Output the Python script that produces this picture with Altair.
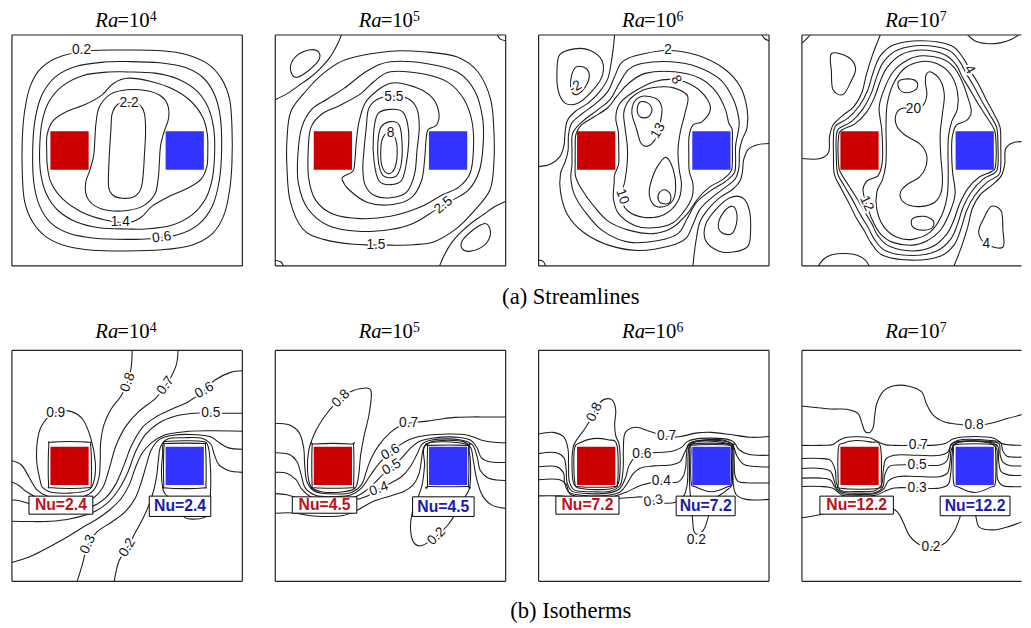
import altair as alt
import pandas as pd

# ------------------------------------------------------------------
# Texts
RA_EXP = ["4", "5", "6", "7"]
CAPTION_A = "(a)  Streamlines"
CAPTION_B = "(b)  Isotherms"
NU_VALUES = ["2.4", "4.5", "7.2", "12.2"]

# heaters (cavity units 0..100): x0, x1, y0, y1
HOT_SQ = (16.7, 33.3, 41.7, 58.3)
COLD_SQ = (66.7, 83.3, 41.7, 58.3)

# ------------------------------------------------------------------
# (a) Streamlines, Ra = 1e4
A1_02 = [(50,93.5),(65,93.2),(76,91.5),(85,87.5),(91,81),(94.5,72),(95.5,60),(95.5,45),(94.5,33),(92,22),(87,14),(78,9),(65,7),(50,6.5),(35,6.8),(24,8.5),(15,12.5),(9,19),(5.5,28),(4.5,40),(4.5,55),(5.5,67),(8,78),(13,86),(22,91),(35,93.3)]
A1_06 = [(50,88.5),(64,88),(75,86),(83,81.5),(88,74),(90.5,64),(91,50),(90,37),(87,26),(81,18),(72,13.5),(60,11.8),(50,11.5),(36,12),(25,14),(17,18.5),(12,26),(9.5,36),(9,50),(10,63),(13,74),(19,82),(28,86.5),(40,88.3)]
A1_10 = [(50,84),(62,83.5),(72,81),(80,76),(85,69),(87.5,60),(88,50),(87,38),(84,29),(78,22),(69,17.5),(58,16),(50,16),(38,16.5),(28,19),(20,24),(15,31),(12.5,40),(12,50),(13,62),(16,71),(22,78),(31,82.5),(42,84)]
A1_14 = [(50,81.3),(60,80),(70,76.5),(78,71),(83,64),(84.8,57),(85,50),(84.6,43),(82,37.5),(76,33.5),(68,30),(61,26),(56,21),(50,18.7),(40,20),(30,23.5),(22,29),(17,36),(15.4,43),(15.1,50),(15.3,57),(18,63),(24,67),(32,70),(39,74),(44,79)]
A1_18 = [(50,76.3),(58,76),(64,74),(67.5,70),(68,64),(66,58),(64.5,52),(64,45),(63.5,38),(62,31),(57,26),(50,24),(42,24),(36,26),(32.5,30),(32,36),(34,42),(35.5,48),(36,55),(36.5,62),(38,69),(43,74.5)]
A1_22 = [(50,70.8),(55,70),(57.5,66),(58,58),(57.5,48),(57,40),(56,33.5),(53,30),(48,29.3),(44,30.5),(42,34),(42,42),(42.5,52),(43,60),(43.5,66),(46,70)]

# (a) Streamlines, Ra = 1e5
A2_15 = [(50,93),(66,92.6),(79,90.5),(88,84),(93.5,72),(94.9,58),(94.9,45),(93.2,33),(86.2,23.7),(79,16.5),(69,10.5),(60,9.2),(50,9),(34,9.4),(21,11.5),(12,16),(6.5,28),(5.1,42),(5.1,55),(6.8,67),(13.8,76.3),(21,83.5),(31,89.5)]
A2_25 = [(50,88.4),(66,87.6),(79,84),(86.5,76),(90,64),(90.2,52),(88.5,41),(84,33),(77,28.5),(70,24.5),(60,18.5),(50,15.8),(36,15),(23,17.5),(14,25),(10,36),(9.8,48),(11.5,60),(16,68),(23,72.5),(30,77),(40,84.5)]
A2_35 = [(50,84.1),(64,83.2),(75,79.5),(82,72),(85.5,62),(86,50),(84.5,40),(79.5,34),(72,30.5),(63,25.5),(50,21.5),(37,20.5),(25,22.5),(17.5,28.5),(14.5,38),(14.3,50),(15.5,60),(20.5,66),(28,69.5),(37,74.5),(43,80)]
A2_45 = [(50,79.1),(60.5,77.5),(68,73),(71,66.5),(70,61),(66.3,59),(65.4,54),(64.8,46),(63.5,37),(59,29.5),(50,26.5),(40,27.5),(32,33),(29,37.5),(30,39),(33.7,41),(34.6,46),(35.2,54),(36.5,63),(40,72)]
A2_55 = [(50,73.5),(57.5,72.5),(61.5,68),(62.5,60),(61.5,50),(60.5,40),(57,32),(50,29.5),(43,30.5),(39,35),(38,42),(38.5,50),(39.5,60),(40.5,68),(44,72)]
A2_65 = [(50,67.8),(55.6,66.4),(57.9,57.9),(57.2,46.5),(55,37.3),(50,35.2),(45,36.9),(42.9,45.1),(42.6,56.5),(44.4,65.7)]
A2_75 = [(50,62.5),(53.8,61),(55,54),(54.8,45),(53,39.5),(50,38.2),(46.5,39.5),(44.8,45),(44.5,53),(45.8,60)]
A2_80 = [(49.4,57.9),(52.2,55),(52.9,48),(51.5,41.6),(48.6,40.1),(46.2,43.7),(45.8,50.8),(46.8,55.7)]
A2_SEP_TL = [(0,72),(5,74.5),(10,78),(15,81.5),(19.5,85.5),(23.5,90),(26.5,95),(28.7,100)]
A2_SEP_BR = [(100,28),(95,25.5),(90,22),(85,18.5),(80.5,14.5),(76.5,10),(73.5,5),(71.3,0)]
A2_LOOP_TL = [(7.4,82.7),(6.7,86.9),(9.5,91.2),(15.2,93.6),(18.8,92.6),(18.8,89),(13.8,84.1),(9.5,81.7)]
A2_LOOP_BR = [(92.6,17.3),(93.3,13.1),(90.5,8.8),(84.8,6.4),(81.2,7.4),(81.2,11),(86.2,15.9),(90.5,18.3)]
A2_CORNER_TR = [(96.5,100),(97.5,98.3),(100,97.5)]
A2_CORNER_BL = [(0,2.5),(2.5,1.7),(3.5,0)]

# (a) Streamlines, Ra = 1e6
A3_02 = [(56,93.3),(69,91.2),(80.4,85.5),(87.5,77.7),(90.5,68),(90.5,60),(88.5,55),(87.2,50),(87,43),(85.5,38),(81,34),(75,29.5),(70,24.5),(67,18),(64,12),(58,9),(44,6.7),(31,8.8),(19.6,14.5),(12.5,22.3),(9.5,32),(9.5,40),(11.5,45),(12.8,50),(13,57),(14.5,62),(19,66),(25,70.5),(30,75.5),(33,82),(36,88),(42,91)]
A3_04 = [(57.6,88.4),(69,86.2),(79,80.6),(84.6,72),(87,63),(86.5,57.5),(85.5,52),(85.5,45),(85,40.5),(81,36.5),(74.5,32.5),(68.5,27.5),(64.5,20.5),(60.5,14),(52,11),(39.1,10.3),(27.7,15.3),(19.9,23.8),(15.5,31),(14,38),(14.5,44),(14.5,50),(14.8,57.5),(19,62.5),(25.5,67.5),(31,72),(35,79),(39,85),(44.8,87.7)]
A3_06 = [(59,84.1),(70,81.3),(77,75.5),(81,68),(82.5,62),(84,59),(84.1,52),(84.1,45),(83.5,41),(80,37.5),(74,34),(69,29),(64.5,22.5),(58,16.5),(49.8,14),(39.1,15.5),(30,19.5),(23.5,26.5),(18.5,33.5),(16,39),(15.9,45),(15.9,52),(16.2,57),(18.5,61),(24,64.5),(30,68.5),(34,73.5),(39,79),(46.2,83.4)]
A3_08 = [(59.7,80.6),(67.6,77.7),(73,72.5),(74.5,67.5),(71,62.5),(67,61),(65.3,56),(65.2,48),(65.4,41),(67,35.5),(66.5,29.5),(63,23.5),(58,18.5),(50,16.5),(42,17.4),(34.9,22.4),(32.5,29),(32.8,36),(33,39.5),(34.7,44),(34.8,50),(34.6,58),(33.5,64),(35,70),(40.5,74.9),(50.5,79.9)]
A3_10 = [(59,77),(64.7,73.5),(63.5,66),(61.5,58),(60.5,50),(61,42),(62,35),(60.5,28.1),(54.8,22.4),(46.2,21),(38.5,24),(36,30),(37.5,37),(38.5,45),(38.5,52),(37.5,60),(37,66.5),(39.5,72),(45,76),(52,77.5)]
A3_13A = [(45,73.5),(51,72.5),(53.5,68.5),(52.8,62),(51,55.5),(47.7,52),(44.5,53),(42.5,59.3),(40.5,66),(41.5,71)]
A3_13B = [(55.5,47),(58.5,41.5),(59.5,34),(58,28),(53.5,25.5),(49.5,27),(48,32.3),(49.8,39.4),(52.5,44.5)]
A3_CORE_A = [(44,71),(47.5,70.5),(49.2,67.5),(47.5,64.5),(44.2,64.5),(42.8,67.5)]
A3_CORE_B = [(54.8,33),(57.2,31),(56.9,27.5),(53.8,27),(52,28.5),(52.3,31.6)]
A3_SEP_TL = [(0,43),(5,44),(9,47),(11,52),(11.5,58),(12.5,63),(16,67),(21.5,70.5),(26.5,75.5),(30,81),(31.5,88),(32.5,95),(33,100)]
A3_SEP_BR = [(100,53),(95,52.5),(91,50.5),(89,46),(88.5,41),(87.5,37),(84,33),(78.5,29.5),(73.5,24.5),(70,19),(68.5,12),(67.5,5),(67,0)]
A3_LOOP_TL = [(9.2,91.5),(15.5,94),(22,93.5),(27.5,89),(27.5,82),(23,75.5),(17,70.5),(11.5,70.5),(8.5,76),(8,85)]
A3_NEG_TL = [(16.4,86.2),(20.6,85.5),(22,82),(19.9,77),(16.4,74.2),(14.2,76.3),(14.2,82)]
A3_LOOP_BR = [(90.8,8.5),(84.5,6),(78,6.5),(72.5,11),(72.5,18),(77,24.5),(83,29.5),(88.5,29.5),(91.5,24),(92,15)]
A3_NEG_BR = [(83.6,13.8),(79.4,14.5),(78,18),(80.1,23),(83.6,25.8),(85.8,23.7),(85.8,18)]
A3_CORNER_TR = [(97,100),(98,98.5),(100,97.5)]
A3_CORNER_BL = [(0,2.5),(2,2),(3,0)]

# (a) Streamlines, Ra = 1e7
A4_C1 = [(52,97.5),(64.7,95.5),(70,90),(72.8,85),(76.5,79),(80,72),(83.5,65.5),(86,60),(86.3,52),(86.3,44),(85.5,39.5),(80,36),(75,30.5),(71.5,24),(69,16),(66,9),(60,4.2),(48,2.5),(35.3,4.5),(30,10),(27.2,15),(23.5,21),(20,28),(16.5,34.5),(14,40),(13.7,48),(13.7,56),(14.5,60.5),(20,64),(25,69.5),(28.5,76),(31,84),(34,91),(40,95.8)]
A4_C2 = [(52,95.5),(63.5,93.5),(68.5,88.5),(71.2,83.5),(74.5,78),(78,71.5),(81.5,65.5),(84.5,60),(85.1,52),(85.1,44),(84,40.5),(78.5,37.5),(73.5,32),(70,25.5),(67.5,18),(64.5,11.5),(58.5,6.5),(48,4.5),(36.5,6.5),(31.5,11.5),(28.8,16.5),(25.5,22),(22,28.5),(18.5,34.5),(15.5,40),(14.9,48),(14.9,56),(16,59.5),(21.5,62.5),(26.5,68),(30,74.5),(32.5,82),(35.5,88.5),(41.5,93.5)]
A4_C3 = [(52,93.5),(62,91.5),(67,87),(69.5,82),(72.5,77),(76,71),(79.5,65.5),(83,60),(84.1,56),(84.1,44),(82.5,41),(77,38.5),(72,33.5),(68.5,27),(66,20),(63,14),(57,8.5),(48,6.5),(38,8.5),(33,13),(30.5,18),(27.5,23),(24,29),(20.5,34.5),(17,40),(15.9,44),(15.9,56),(17.5,59),(23,61.5),(28,66.5),(31.5,73),(34,80),(37,86),(43,91.5)]
A4_C4 = [(52,91),(60.5,89.8),(66,86),(69.5,80),(72,73),(73.5,67),(71.5,63),(67,61),(65.2,55.5),(65,48),(65.4,40.5),(66.5,31.5),(64.5,24),(60.5,16),(54.5,11),(48,9),(39.5,10.2),(34,14),(30.5,20),(28,27),(26.5,33),(28.5,37),(33,39),(34.8,44.5),(35,52),(34.6,59.5),(33.5,68.5),(35.5,76),(39.5,84),(45.5,89)]
A4_C5 = [(52,88.5),(59,87.5),(64.5,83),(67.5,75.5),(67.5,68),(65,62.5),(63.6,56),(63.4,48),(63.5,39),(63,30),(60.5,21.5),(55.5,14.5),(48,11.5),(41,12.5),(35.5,17),(32.5,24.5),(32.5,32),(35,37.5),(36.4,44),(36.6,52),(36.5,61),(37,70),(39.5,78.5),(44.5,85.5)]
A4_C20 = [(56,84),(60,80.5),(61.8,74),(61,66),(60,57),(60.3,47),(61,38),(60.3,31.5),(57.5,27.5),(52,25.8),(46.5,26.3),(43,29),(43,32.5),(46,35.5),(51,38.5),(53.8,43),(54,48.5),(51,53),(45,56.5),(41.2,60.5),(40.8,65.5),(43.5,68.3),(48.4,68),(52.5,69.5),(54.2,74),(53.6,79.5),(54,83)]
A4_CORE_T = [(42,80),(46.5,81),(50,79.5),(49.5,76.5),(45.5,75),(42.3,76.5)]
A4_CORE_B = [(48,20.5),(53,21.5),(57,19.5),(56.5,16.5),(52,15.5),(48,17)]
A4_SEP_L = [(0,46.5),(8,46.5),(11.5,49),(12,56),(13.5,61),(17.5,65),(22.5,69),(26,75),(28,83),(30.5,91),(34,100)]
A4_SEP_R = [(100,53.5),(92,53.5),(88.5,51),(88,44),(86.5,39),(82.5,35),(77.5,31),(74,25),(72,17),(69.5,9),(66,0)]
A4_LOOP_TL = [(12.8,91.9),(20,90.5),(23.3,85.5),(21.3,79.9),(17.8,74.2),(13.5,76.3),(12.8,84.1)]
A4_LOOP_BR = [(87.2,8.1),(80,9.5),(76.7,14.5),(78.7,20.1),(82.2,25.8),(86.5,23.7),(87.2,15.9)]
A4_TOP_ARC = [(72,100),(75,97.5),(80,96.3),(86,96.6),(91,98.2),(94,100)]
A4_BOTTOM_ARC = [(7.1,0),(9.5,3),(13,4.8),(19.2,5.4),(24,4.6),(27.5,2.5),(29.2,0)]
A4_CORNER_TL = [(0,96.5),(2,98.3),(3.5,100)]

# ------------------------------------------------------------------
# (b) Isotherms, Ra = 1e4
B1_HOT = [(16,58.5),(17.5,60.3),(32.5,60.3),(34.2,58.5),(34.4,43),(32.5,40.5),(17.5,40.5),(15.9,42.5)]
B1_COLD = [(66,58.5),(67.3,59.7),(82.7,59.7),(84,58.5),(84.2,42.5),(82.7,40.4),(67.3,40.4),(65.9,42.5)]
B1_01 = [(65.4,55),(65.6,59.6),(68,60.7),(82,60.7),(85,58.8),(86,52),(86.3,42),(85.8,34),(84.5,28.3),(80,27),(75,27.6),(72.5,31),(69,35.5),(65.8,39),(64.9,47)]
B1_09 = [(12.4,43),(10.7,52.9),(11.7,64.3),(15.2,70.6),(20.2,73.5),(25.9,73.5),(30.9,69.9),(34.4,61.4),(36.2,51.5),(35.6,43.5),(33,39.5),(25,38.2),(17,38.6),(13.5,40.5)]
B1_08 = [(52.2,100),(51.8,93),(50.5,87),(47.5,80.5),(43,74.5),(40,68),(38.5,60),(38.3,52),(37.8,45),(35.5,39.5),(30,36.3),(22,35.8),(15.5,36.8),(11,39.5),(7.5,45),(4,50.5),(0,52.2)]
B1_07 = [(72.1,100),(71.4,94),(68.6,87.7),(65.5,83),(62.2,79.1),(55,73.5),(49.4,67.1),(45.1,58.6),(42.2,48.7),(39.4,40.6),(35.1,36),(28,34.2),(20,34),(12,35.8),(6,39),(3,41.5),(0,43)]
B1_06 = [(100,91.2),(94.9,90.5),(87.8,87),(83.5,82.7),(76.4,77.7),(69.3,74.5),(62.2,71),(56.5,66.5),(52,59),(48.5,50),(45,42),(40.5,36),(34.5,32.3),(23.8,31),(9.5,33),(3.8,34.8),(0,35.2)]
B1_05 = [(100,72.8),(86.3,72.8),(79.2,72.8),(70.7,71.5),(63.6,68.5),(57.9,63.5),(53.6,56),(50.2,47),(46.5,40),(41.5,34),(35,29.8),(25,27),(16.6,26),(6.7,25.9),(0,26)]
B1_04 = [(0,8.2),(8,10.8),(16,14.8),(24,19.2),(31,23.5),(37,27),(42.5,31),(47.5,36),(51,42),(53.5,49),(56.5,55.5),(60.5,60),(66,63.3),(75,64.8),(85,65.2),(100,65)]
B1_03 = [(28.3,0),(30.5,7),(33,16),(37,21.5),(43,25.5),(49,30),(53.5,36),(56.5,44),(58.5,51),(60.5,57),(64,61.5),(70,63.3),(80,63.5),(86.5,62.5),(90,60),(94,57.8),(100,57.2)]
B1_02 = [(44.4,0),(46.5,8.9),(50.1,14.6),(53.5,21),(57,27.5),(59.8,34),(61.7,40),(63,47),(63.6,53),(64.6,58.5),(67.5,61.6),(75,62.2),(83,61.8),(86.3,59.5),(87.8,55),(89.8,50.5),(94,48),(100,47.2)]

# (b) Isotherms, Ra = 1e5
B2_HOT = [(16,58.5),(17.2,59.5),(32.8,59.5),(34,58.5),(34,42),(32.8,40.5),(17.2,40.5),(16,42)]
B2_COLD = [(66.1,58.2),(66.8,58.9),(83.2,58.9),(83.9,58.2),(83.9,41.8),(83.2,41.1),(66.8,41.1),(66.1,41.8)]
B2_08 = [(41.5,82.7),(40.8,72.8),(38.5,62.8),(37,54.3),(36.2,46),(34.5,40.2),(28,38.6),(20,38.8),(15.5,41),(14,48),(14.6,57),(17.5,65),(21.5,71.5),(26,77),(31,81.2),(36.6,83.4)]
B2_07 = [(0,68.5),(6,67.8),(10.3,64.5),(12.3,58),(12.8,50),(13.8,43),(17,39),(26,37.8),(33,38.5),(37.5,42),(39.5,47.5),(41.5,53),(45,59),(50,64.5),(54,67.3),(58,68.5),(62,69),(66,69.4),(72,70.3),(78,71),(85,71.2),(92,71.2),(100,71.2)]
B2_06 = [(0,55.7),(6,55),(9.3,52),(11.3,46),(13,40.5),(17.5,37.3),(26,36.7),(33,37.5),(37.5,40.5),(41,45.5),(45,51),(50,56),(54,59),(58,61.3),(62,62.6),(66,63.3),(75,63.8),(82,63.6),(86,62.5),(90,61),(95,60.2),(100,60)]
B2_05 = [(0,47.2),(5,46.8),(9,44),(11.5,40),(16,36.3),(26,35.6),(34,36.3),(39,39),(43,42.5),(47,46.5),(50.5,49.5),(54.5,53),(58.5,57.5),(62.5,60.6),(68,62),(80,62.3),(85,61),(87.5,58),(89.5,53.5),(93,51.8),(100,51.5)]
B2_04 = [(0,38),(5,37.5),(10,36),(16,35),(26,34.6),(34,35.2),(40,37),(45,40),(50,42.5),(55,45.5),(58.5,49.5),(61.5,55),(63.8,59.5),(68,61.2),(80,61.3),(85.5,59.2),(87.6,54),(89,48),(92,45),(96,43.9),(100,43.7)]
B2_03 = [(0,29.5),(8,29.6),(16.6,28.3),(29.4,28.5),(35.8,30.9),(42.2,34.5),(50,37),(56,39),(60,42),(62.5,47),(63.5,53),(64.5,58),(67.5,60.3),(82,60.4),(84.8,58),(86,52),(87.5,44),(90,37),(94,33),(100,31.6)]
B2_02 = [(65.8,59.6),(82.3,59.6),(84.2,56),(84.8,48),(84.2,40),(81,34.5),(78,29),(75,24.5),(70,19.5),(63.5,15.5),(60,17),(58.7,23),(59.5,30),(61.8,36),(63.8,42),(64.8,50)]

# (b) Isotherms, Ra = 1e6
B3_HOT = [(15.5,57),(18,60),(23.5,61.8),(30,61.3),(34,59),(34.3,43),(32,41),(18,41),(15.7,43)]
B3_COLD = [(66.2,57),(66.8,59),(83.2,59),(83.6,57),(83.6,43),(82,41),(75,38.8),(68,41),(66.2,43)]
B3_08 = [(15,58),(17,62),(20,66),(23,71),(26,76.5),(28.5,78.8),(32,78.5),(33.5,74),(33,68),(33.5,63),(35,59),(35.4,50),(34.6,42.5),(31,40),(20,40),(15.4,42),(14.5,50)]
B3_07 = [(0,63.8),(6.4,64.5),(11,62.5),(12.8,57),(13,50),(13.4,43),(15.5,39.6),(23.5,38.8),(31,39),(35.3,41.5),(36.5,46.5),(36.8,52),(36.8,57.4),(37.7,64.5),(42,66.7),(48,65),(55.5,62.7),(60,62.5),(63.3,63.1),(69,64.3),(75,64.5),(83.2,63.6),(91.7,62.4),(100,62.7)]
B3_06 = [(0,55.3),(7.8,55.7),(11,53.5),(12,48),(12.3,43),(14.3,39.2),(22,38),(30,38.2),(35,40),(37.6,44.5),(39.2,50),(41.5,53.5),(44.8,55.3),(52,55.8),(58,56.3),(62,58),(64.5,60.5),(68,61.6),(80,61.8),(84.5,60.5),(87,57),(91,55),(100,54.6)]
B3_05 = [(0,49.6),(8,49.6),(10.8,47),(11.3,42.5),(13.3,38.5),(20,37.2),(30,37.3),(35.5,38.8),(38.5,42.5),(41,46.5),(44,49),(50,50),(58,50.5),(61.5,52),(63.5,56),(66,60),(70,61),(80,61.2),(84,59.5),(86,54.5),(89,50.7),(94,49.7),(100,49.5)]
B3_04 = [(0,44),(9.2,44),(12,42),(13.5,38),(19.2,36.3),(30.6,36.3),(37.7,38.5),(44.8,41.7),(53.3,43.3),(60.5,43),(62.8,45.5),(63.9,50),(64.2,55),(65,59.3),(68,60.7),(80,60.8),(84,59.3),(84.9,52),(85.2,46),(86.5,43.3),(90,42.7),(94.6,42.6),(100,42.6)]
B3_03 = [(0,37),(8,37),(15,36.4),(22,35.8),(32,35.8),(40,36.3),(45,36.5),(49.8,34.8),(55,33.8),(60,34.5),(63,37),(64.5,42),(64.8,50),(65.2,57),(67,60),(80,60.1),(83.8,58.3),(84.4,50),(84.5,42),(85.8,37.5),(90,35.5),(100,35.5)]
B3_02 = [(65.6,56),(66.2,59.5),(83.5,59.6),(84,58),(84,50),(84,42),(81,39),(76,35),(74,29),(72,23),(69.5,20.5),(67.5,21.5),(66.8,27),(66.5,33),(65.8,38),(65.5,43),(65.5,50)]

# (b) Isotherms, Ra = 1e7
B4_HOT = [(15.8,57.5),(18,59.8),(23.5,61),(30,60.3),(34,58.6),(34.4,44),(33,40.3),(17,40.3),(15.8,43)]
B4_COLD = [(65.8,57),(67,59.3),(83,59.3),(84,57),(84,43),(82,40.8),(75,38.5),(68,40.8),(65.8,43)]
B4_08 = [(0,75.9),(6,75.3),(13,74.6),(19.5,74.5),(24.5,72.5),(26,68.5),(27.5,64.8),(29.5,64.5),(31,67),(31.5,71),(32.5,77),(35.5,82.5),(40,84.7),(46.5,84.5),(52,82),(54,77),(57,72),(62,69),(68,68),(74.7,67.5),(82,68.5),(89,70.5),(96,72.3)]
B4_07 = [(0,58.9),(8,58.9),(13.5,59.3),(16,61),(19,62.3),(25,62.6),(30,62),(33.5,60.2),(36,59.2),(40,58.9),(50,58.9),(58,59),(62.5,59.8),(65.5,61.6),(70,62.5),(80,62.5),(84,61.7),(86.5,59.8),(90,59.1),(96,58.9)]
B4_06 = [(0,53.2),(8,53.2),(12.3,52.5),(14.5,48),(15,42.5),(16.8,39.4),(25,38.9),(32,39.3),(34.6,42),(35.3,48),(36.5,53),(40,54.6),(50,54.6),(60,54.6),(63.3,56),(65,59.4),(67.5,61),(82,61),(86.2,60.2),(87.2,56.5),(89,54.2),(92,53.8),(96,53.8)]
B4_05 = [(0,48.9),(8,48.9),(12.5,47.5),(14,43.5),(15.2,40),(18,38.5),(25,38.2),(32,38.5),(35.2,41),(35.9,46),(38,49.8),(42,50.4),(50,50.4),(60,50.4),(62.8,52),(64,56),(64.8,59.4),(67.5,60.5),(82,60.5),(85.6,59.5),(86,55),(87.3,51.5),(90,50.2),(96,50)]
B4_04 = [(0,44.7),(8,44.7),(12.5,43.8),(14.2,41),(17.5,38),(25,37.6),(32,38),(35.5,40),(37.5,43.5),(42,45.4),(50,45.4),(60,45.4),(63.2,47),(64.3,52),(65,57.5),(67.5,60.1),(82,60.1),(85,58.5),(85.4,52),(86.5,47.5),(90,46),(96,46)]
B4_03 = [(0,41.1),(8,41.1),(13.5,40.3),(17.5,37.3),(25,37),(32,37.3),(36,39),(40,40.4),(50,40.4),(60,40.4),(63.5,42),(64.6,47),(65.2,55),(66.3,59.5),(82,59.7),(84.5,57.5),(84.6,50),(85,44),(87,41.5),(92,41),(96,41)]
B4_02 = [(0,27.5),(6,28.5),(13,30),(22,31),(32,31.5),(38,32),(41.5,30),(44,25.5),(46.5,20),(50,16.5),(56,14.8),(62,16.5),(66,21.5),(68.5,27.5),(70,33),(72,36),(74.5,33),(75.5,28),(77,23.5),(83,22.3),(90,23.8),(96,26)]

# panel id, contour id, closed?, points
CONTOURS = [
    ("A1", "0.2", True, A1_02), ("A1", "0.6", True, A1_06), ("A1", "1.0", True, A1_10),
    ("A1", "1.4", True, A1_14), ("A1", "1.8", True, A1_18), ("A1", "2.2", True, A1_22),
    ("A2", "1.5", True, A2_15), ("A2", "2.5", True, A2_25), ("A2", "3.5", True, A2_35),
    ("A2", "4.5", True, A2_45), ("A2", "5.5", True, A2_55), ("A2", "6.5", True, A2_65),
    ("A2", "7.5", True, A2_75), ("A2", "8", True, A2_80),
    ("A2", "sep1", False, A2_SEP_TL), ("A2", "sep2", False, A2_SEP_BR),
    ("A2", "l1", True, A2_LOOP_TL), ("A2", "l2", True, A2_LOOP_BR),
    ("A2", "c1", False, A2_CORNER_TR), ("A2", "c2", False, A2_CORNER_BL),
    ("A3", "2", True, A3_02), ("A3", "4", True, A3_04), ("A3", "6", True, A3_06),
    ("A3", "8", True, A3_08), ("A3", "10", True, A3_10), ("A3", "13a", True, A3_13A),
    ("A3", "13b", True, A3_13B), ("A3", "ca", True, A3_CORE_A), ("A3", "cb", True, A3_CORE_B),
    ("A3", "sep1", False, A3_SEP_TL), ("A3", "sep2", False, A3_SEP_BR),
    ("A3", "l1", True, A3_LOOP_TL), ("A3", "n1", True, A3_NEG_TL),
    ("A3", "l2", True, A3_LOOP_BR), ("A3", "n2", True, A3_NEG_BR),
    ("A3", "c1", False, A3_CORNER_TR), ("A3", "c2", False, A3_CORNER_BL),
    ("A4", "c1", True, A4_C1), ("A4", "c2", True, A4_C2), ("A4", "c3", True, A4_C3),
    ("A4", "c4", True, A4_C4), ("A4", "c5", True, A4_C5), ("A4", "20", True, A4_C20),
    ("A4", "k1", True, A4_CORE_T), ("A4", "k2", True, A4_CORE_B),
    ("A4", "sep1", False, A4_SEP_L), ("A4", "sep2", False, A4_SEP_R),
    ("A4", "l1", True, A4_LOOP_TL), ("A4", "l2", True, A4_LOOP_BR),
    ("A4", "a1", False, A4_TOP_ARC), ("A4", "a2", False, A4_BOTTOM_ARC), ("A4", "a3", False, A4_CORNER_TL),
    ("B1", "h", True, B1_HOT), ("B1", "c", True, B1_COLD), ("B1", "0.1", True, B1_01),
    ("B1", "0.9", True, B1_09), ("B1", "0.8", False, B1_08), ("B1", "0.7", False, B1_07),
    ("B1", "0.6", False, B1_06), ("B1", "0.5", False, B1_05), ("B1", "0.4", False, B1_04),
    ("B1", "0.3", False, B1_03), ("B1", "0.2", False, B1_02),
    ("B2", "h", True, B2_HOT), ("B2", "c", True, B2_COLD), ("B2", "0.8", True, B2_08),
    ("B2", "0.7", False, B2_07), ("B2", "0.6", False, B2_06), ("B2", "0.5", False, B2_05),
    ("B2", "0.4", False, B2_04), ("B2", "0.3", False, B2_03), ("B2", "0.2", True, B2_02),
    ("B3", "h", True, B3_HOT), ("B3", "c", True, B3_COLD), ("B3", "0.8", True, B3_08),
    ("B3", "0.7", False, B3_07), ("B3", "0.6", False, B3_06), ("B3", "0.5", False, B3_05),
    ("B3", "0.4", False, B3_04), ("B3", "0.3", False, B3_03), ("B3", "0.2", True, B3_02),
    ("B4", "h", True, B4_HOT), ("B4", "c", True, B4_COLD), ("B4", "0.8", False, B4_08),
    ("B4", "0.7", False, B4_07), ("B4", "0.6", False, B4_06), ("B4", "0.5", False, B4_05),
    ("B4", "0.4", False, B4_04), ("B4", "0.3", False, B4_03), ("B4", "0.2", False, B4_02),
]

# contour labels: panel, text, x, y, angle
LABELS = [
    ("A1", "0.2", 30.2, 93.3, 0), ("A1", "2.2", 50.8, 70.6, 0), ("A1", "1.4", 47, 19, 0), ("A1", "0.6", 65, 12.4, 352),
    ("A2", "5.5", 51.5, 73.3, 0), ("A2", "8", 50, 57.6, 0), ("A2", "2.5", 73, 26.3, 320), ("A2", "1.5", 43.7, 9.2, 0),
    ("A3", "2", 56.2, 93.3, 0), ("A3", "8", 59.7, 80.6, 60), ("A3", "13", 51.9, 58.5, 300),
    ("A3", "10", 36.3, 30, 70), ("A3", "-2", 16, 77.5, 330),
    ("A4", "4", 72.8, 85, 60), ("A4", "20", 48.4, 68, 0), ("A4", "12", 28, 27, 65), ("A4", "4", 80, 9.5, 0),
    ("B1", "0.9", 19, 73, 0), ("B1", "0.8", 50.3, 86.2, 290), ("B1", "0.7", 66.7, 84.8, 305),
    ("B1", "0.6", 83.5, 82.7, 330), ("B1", "0.5", 86.3, 72.8, 0), ("B1", "0.3", 33, 16, 295), ("B1", "0.2", 50.1, 14.6, 300),
    ("B2", "0.8", 28.5, 79.2, 315), ("B2", "0.7", 57.9, 68.5, 0), ("B2", "0.6", 50, 56, 330),
    ("B2", "0.5", 50.5, 49.5, 330), ("B2", "0.4", 45, 40, 340), ("B2", "0.2", 70, 19.5, 315),
    ("B3", "0.8", 24.3, 73.3, 295), ("B3", "0.7", 55.5, 62.7, 0), ("B3", "0.6", 44.8, 55.3, 0),
    ("B3", "0.4", 53.3, 43.3, 0), ("B3", "0.3", 49.8, 34.8, 350), ("B3", "0.2", 68.5, 17.8, 0),
    ("B4", "0.8", 74.7, 67.5, 0), ("B4", "0.7", 50.5, 58.9, 0), ("B4", "0.5", 50, 50.4, 0),
    ("B4", "0.3", 50, 40.4, 0), ("B4", "0.2", 56, 14.8, 0),
]

# Nusselt boxes: panel, x0, x1, y0, y1, side
NU_BOXES = [
    ("B1", 7.4, 35.1, 29.1, 36.9, "hot"), ("B1", 59.6, 86.3, 28.1, 36.9, "cold"),
    ("B2", 7.4, 35.4, 29.5, 36.6, "hot"), ("B2", 59.6, 86.3, 28.1, 36.6, "cold"),
    ("B3", 7.5, 34.9, 29.1, 36.9, "hot"), ("B3", 59.7, 85.3, 28.4, 36.9, "cold"),
    ("B4", 7.8, 39.7, 29.1, 36.9, "hot"), ("B4", 60.0, 90.3, 28.4, 36.9, "cold"),
]

# ------------------------------------------------------------------
LINE = "#1e1e1e"
RED = "#cc0000"
BLUE = "#3333ff"
NU_RED = "#c0101a"
NU_BLUE = "#1c1ca8"
SERIF = "Liberation Serif"
SANS = "Liberation Sans"

rows = []
for k, (pid, lev, closed, pts) in enumerate(CONTOURS):
    for i, (x, y) in enumerate(pts):
        rows.append({"panel": pid, "cid": f"{pid}-{lev}-{k}", "ord": i, "x": x, "y": y, "closed": closed})
cdf = pd.DataFrame(rows)
ldf = pd.DataFrame(LABELS, columns=["panel", "text", "x", "y", "angle"])
nu_rows = []
for pid, x0, x1, y0, y1, side in NU_BOXES:
    idx = ["B1", "B2", "B3", "B4"].index(pid)
    nu_rows.append({"panel": pid, "x0": x0, "x1": x1, "y0": y0, "y1": y1,
                    "xc": (x0 + x1) / 2, "yc": (y0 + y1) / 2,
                    "text": "Nu=" + NU_VALUES[idx],
                    "tcolor": NU_RED if side == "hot" else NU_BLUE})
ndf = pd.DataFrame(nu_rows)
sq_df = pd.DataFrame([
    {"x0": HOT_SQ[0], "x1": HOT_SQ[1], "y0": HOT_SQ[2], "y1": HOT_SQ[3], "c": RED},
    {"x0": COLD_SQ[0], "x1": COLD_SQ[1], "y0": COLD_SQ[2], "y1": COLD_SQ[3], "c": BLUE},
])

W = 234.5
H = 235
W4 = 223.5
XMAX4 = 100 * W4 / W


def make_panel(pid, exp, title_y, width, xmax):
    xs = alt.Scale(domain=[0, xmax], nice=False, zero=False)
    ys = alt.Scale(domain=[0, 100], nice=False, zero=False)

    def X(f):
        return alt.X(f + ":Q", scale=xs, axis=None)

    def Y(f):
        return alt.Y(f + ":Q", scale=ys, axis=None)

    sides = [{"x0": 0, "x1": 0, "y0": 0, "y1": 100},
             {"x0": 0, "x1": min(100, xmax), "y0": 100, "y1": 100},
             {"x0": 0, "x1": min(100, xmax), "y0": 0, "y1": 0}]
    if xmax >= 100:
        sides.append({"x0": 100, "x1": 100, "y0": 0, "y1": 100})
    frame = alt.Chart(pd.DataFrame(sides)).mark_rule(color="#222222", strokeWidth=1.2).encode(
        x=X("x0"), x2="x1:Q", y=Y("y0"), y2="y1:Q")

    layers = []
    cd = cdf[cdf.panel == pid]
    cclosed = cd[cd.closed]
    copen = cd[~cd.closed]
    if len(cclosed):
        layers.append(alt.Chart(cclosed).mark_line(interpolate="cardinal-closed", color=LINE,
                                                   strokeWidth=1.1, clip=True).encode(
            x=X("x"), y=Y("y"), detail="cid:N", order="ord:Q"))
    if len(copen):
        layers.append(alt.Chart(copen).mark_line(interpolate="catmull-rom", color=LINE,
                                                 strokeWidth=1.1, clip=True).encode(
            x=X("x"), y=Y("y"), detail="cid:N", order="ord:Q"))
    squares = alt.Chart(sq_df).mark_rect().encode(
        x=X("x0"), x2="x1:Q", y=Y("y0"), y2="y1:Q", color=alt.Color("c:N", scale=None))
    layers.append(squares)

    nd = ndf[ndf.panel == pid]
    if len(nd):
        layers.append(alt.Chart(nd).mark_rect(fill="white", stroke="black", strokeWidth=1).encode(
            x=X("x0"), x2="x1:Q", y=Y("y0"), y2="y1:Q"))
        layers.append(alt.Chart(nd).mark_text(font=SANS, fontSize=16, fontWeight="bold").encode(
            x=X("xc"), y=Y("yc"), text="text:N", color=alt.Color("tcolor:N", scale=None)))

    ld = ldf[ldf.panel == pid]
    layers.append(alt.Chart(ld).mark_text(font=SANS, fontSize=14, fill="white", stroke="white",
                                          strokeWidth=4, strokeJoin="round").encode(
        x=X("x"), y=Y("y"), text="text:N", angle=alt.Angle("angle:Q", scale=None)))
    layers.append(alt.Chart(ld).mark_text(font=SANS, fontSize=14, fill="#151515").encode(
        x=X("x"), y=Y("y"), text="text:N", angle=alt.Angle("angle:Q", scale=None)))

    tdf = pd.DataFrame([{"x": 50, "y": title_y, "ra": "Ra", "eq": "=10", "exp": exp}])
    layers.append(alt.Chart(tdf).mark_text(font=SERIF, fontSize=21, fontStyle="italic", align="right",
                                           baseline="alphabetic", dx=-9).encode(x=X("x"), y=Y("y"), text="ra:N"))
    layers.append(alt.Chart(tdf).mark_text(font=SERIF, fontSize=21, align="left",
                                           baseline="alphabetic", dx=-10).encode(x=X("x"), y=Y("y"), text="eq:N"))
    layers.append(alt.Chart(tdf).mark_text(font=SERIF, fontSize=14, align="left",
                                           baseline="alphabetic", dx=23, dy=-6).encode(x=X("x"), y=Y("y"), text="exp:N"))

    return alt.layer(frame, *layers).properties(width=width, height=H)


top_panels = [make_panel(f"A{i+1}", RA_EXP[i], 103.5, W if i < 3 else W4, 100 if i < 3 else XMAX4) for i in range(4)]
bot_panels = [make_panel(f"B{i+1}", RA_EXP[i], 105.4, W if i < 3 else W4, 100 if i < 3 else XMAX4) for i in range(4)]

cap_a = dict(orient="bottom", anchor="middle", font=SERIF, fontSize=23, fontWeight="normal",
             color="black", dx=55, offset=20)
cap_b = dict(orient="bottom", anchor="middle", font=SERIF, fontSize=23, fontWeight="normal",
             color="black", dx=55, offset=19)
top = alt.hconcat(*top_panels, spacing=31).properties(title=alt.TitleParams(CAPTION_A, **cap_a))
bottom = alt.hconcat(*bot_panels, spacing=31).properties(title=alt.TitleParams(CAPTION_B, **cap_b))

chart = alt.vconcat(top, bottom, spacing=12).properties(
    padding={"left": 3, "top": -4, "right": 0, "bottom": 0},
    background="white",
).configure_view(strokeWidth=0)

chart.save("out.html", embed_options={"renderer": "svg", "actions": False})
